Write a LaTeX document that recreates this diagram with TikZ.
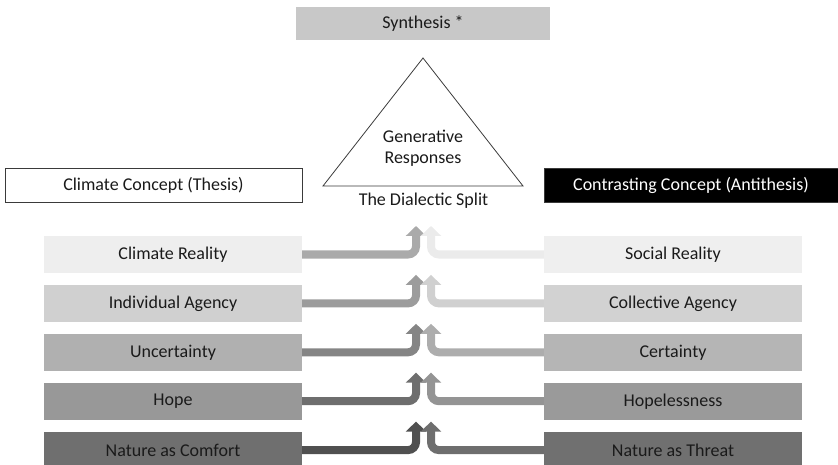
\documentclass[tikz,border=0pt]{standalone}
\usepackage{fontspec}
\setmainfont{Carlito}
\usetikzlibrary{arrows.meta,positioning}
\definecolor{ink}{HTML}{1A1A1A}
\definecolor{edge}{HTML}{3A3A3A}
\definecolor{synth}{HTML}{C8C8C8}
% box shades, light to dark
\definecolor{lA}{HTML}{EEEEEE}
\definecolor{lB}{HTML}{D0D0D0}
\definecolor{lC}{HTML}{B0B0B0}
\definecolor{lD}{HTML}{989898}
\definecolor{lE}{HTML}{6F6F6F}
\definecolor{rA}{HTML}{EFEFEF}
\definecolor{rB}{HTML}{D2D2D2}
\definecolor{rC}{HTML}{B5B5B5}
\definecolor{rD}{HTML}{9A9A9A}
\definecolor{rE}{HTML}{707070}
% arrow shades
\definecolor{aL1}{HTML}{AAAAAA}
\definecolor{aL2}{HTML}{9C9C9C}
\definecolor{aL3}{HTML}{858585}
\definecolor{aL4}{HTML}{6E6E6E}
\definecolor{aL5}{HTML}{505050}
\definecolor{aR1}{HTML}{EBEBEB}
\definecolor{aR2}{HTML}{D0D0D0}
\definecolor{aR3}{HTML}{ADADAD}
\definecolor{aR4}{HTML}{949494}
\definecolor{aR5}{HTML}{6E6E6E}

\begin{document}
\begin{tikzpicture}[
  x=1pt, y=-1pt,
  font=\fontsize{18}{21}\selectfont,
  every node/.append style={text=ink},
  head/.style={draw=edge, line width=0.8pt, minimum height=34pt, inner sep=0pt},
  row/.style={minimum width=258pt, minimum height=37pt, inner sep=0pt},
  flow/.style={line width=8pt, rounded corners=8pt, -{Triangle[width=20pt,length=10pt]}},
]
\useasboundingbox (0,0) rectangle (838,465);

% Synthesis on top
\node[fill=synth, minimum width=254pt, minimum height=33pt, inner sep=0pt] (synth) at (423,23.5) {Synthesis *};

% Triangle
\coordinate (apex) at (423,58);
\coordinate (baseL) at (323,186);
\coordinate (baseR) at (523,186);
\draw[edge, line width=0.8pt] (apex) -- (baseR) -- (baseL) -- cycle;
\node[align=center] (gen) at (423,148) {Generative\\Responses};
\node (split) at (423.5,201) {The Dialectic Split};

% Headings
\node[head, fill=white, minimum width=297pt] (thesis) at (153.5,185) {Climate Concept (Thesis)};
\node[head, fill=black, text=white, minimum width=294pt] (anti) at (691,185) {Contrasting Concept (Antithesis)};

% Left column
\node[row, fill=lA] (l1) at (173,254.5) {Climate Reality};
\node[row, fill=lB, below=11.5pt of l1] (l2) {Individual Agency};
\node[row, fill=lC, below=11.5pt of l2] (l3) {Uncertainty};
\node[row, fill=lD, below=11.5pt of l3] (l4) {Hope};
\node[row, fill=lE, below=11.5pt of l4] (l5) {Nature as Comfort};

% Right column
\node[row, fill=rA] (r1) at (673,254.5) {Social Reality};
\node[row, fill=rB, below=11.5pt of r1] (r2) {Collective Agency};
\node[row, fill=rC, below=11.5pt of r2] (r3) {Certainty};
\node[row, fill=rD, below=11.5pt of r3] (r4) {Hopelessness};
\node[row, fill=rE, below=11.5pt of r4] (r5) {Nature as Threat};

% Arrows meeting in the middle
\foreach \i in {1,...,5}{
  \path (l\i.east -| split) ++(-7.5,-28.5) coordinate (tl\i);
  \path (r\i.west -| split) ++(7.5,-28.5) coordinate (tr\i);
  \draw[flow, draw=aL\i] (l\i.east) -| (tl\i);
  \draw[flow, draw=aR\i] (r\i.west) -| (tr\i);
}

\end{tikzpicture}
\end{document}
